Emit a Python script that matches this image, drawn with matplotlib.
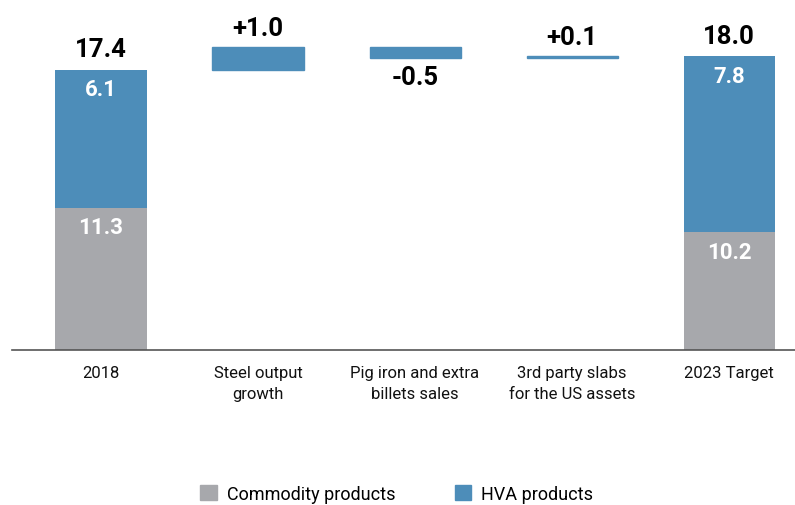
import numpy as np
import matplotlib.pyplot as plt
from matplotlib.patches import Patch

plt.rcParams['font.family'] = ['Roboto', 'DejaVu Sans']

categories = ["2018", "Steel output\ngrowth", "Pig iron and extra\nbillets sales",
              "3rd party slabs\nfor the US assets", "2023 Target"]
commodity = [11.3, 10.2]
hva = [6.1, 7.8]
totals = [17.4, 18.0]
deltas = [1.0, -0.5, 0.1]
delta_labels = ["+1.0", "-0.5", "+0.1"]

GREY = "#a7a8ac"
BLUE = "#4d8db9"

fig = plt.figure(figsize=(7.95, 5.06), dpi=100)
ax = fig.add_axes([12 / 795, 155 / 506, 783 / 795, 351 / 506])

x = np.arange(len(categories))
w = 0.58
ends = [0, 4]

# stacked start / end bars
ax.bar([x[i] for i in ends], commodity, w, bottom=0, color=GREY)
ax.bar([x[i] for i in ends], hva, w, bottom=commodity, color=BLUE)

for k, i in enumerate(ends):
    ax.annotate(f"{totals[k]:.1f}", (x[i], commodity[k] + hva[k]), xytext=(0, 6),
                textcoords="offset points", ha="center", va="bottom",
                fontsize=18.5, fontweight="bold", color="black")
    ax.annotate(f"{hva[k]:.1f}", (x[i], commodity[k] + hva[k]), xytext=(0, -6),
                textcoords="offset points", ha="center", va="top",
                fontsize=16, fontweight="bold", color="white")
    ax.annotate(f"{commodity[k]:.1f}", (x[i], commodity[k]), xytext=(0, -6),
                textcoords="offset points", ha="center", va="top",
                fontsize=16, fontweight="bold", color="white")

# floating change bars
level = totals[0]
for j, d in enumerate(deltas):
    i = j + 1
    bottom = level if d > 0 else level + d
    ax.bar(x[i], abs(d), w, bottom=bottom, color=BLUE, edgecolor=BLUE, linewidth=1)
    if d > 0:
        ax.annotate(delta_labels[j], (x[i], bottom + abs(d)), xytext=(0, 5),
                    textcoords="offset points", ha="center", va="bottom",
                    fontsize=18.5, fontweight="bold", color="black")
    else:
        ax.annotate(delta_labels[j], (x[i], bottom), xytext=(0, -5),
                    textcoords="offset points", ha="center", va="top",
                    fontsize=18.5, fontweight="bold", color="black")
    level += d

ax.set_xlim(-0.567, 4.42)
ax.set_ylim(5.0, 5.0 + 351 / 22.6)
ax.set_xticks(x)
ax.set_xticklabels(categories, fontsize=12, color="#111111", linespacing=1.45)
ax.tick_params(axis="x", length=0, pad=11)
ax.set_yticks([])
for s in ["top", "right", "left"]:
    ax.spines[s].set_visible(False)
ax.spines["bottom"].set_color("#555555")
ax.spines["bottom"].set_linewidth(1.2)

handles = [Patch(color=GREY, label="Commodity products"),
           Patch(color=BLUE, label="HVA products")]
fig.legend(handles=handles, loc="center", bbox_to_anchor=(0.499, 11 / 506),
           ncol=2, frameon=False, fontsize=13, handlelength=0.9, handleheight=0.9,
           handletextpad=0.55, columnspacing=3.3)

fig.savefig("out.png", dpi=100)
